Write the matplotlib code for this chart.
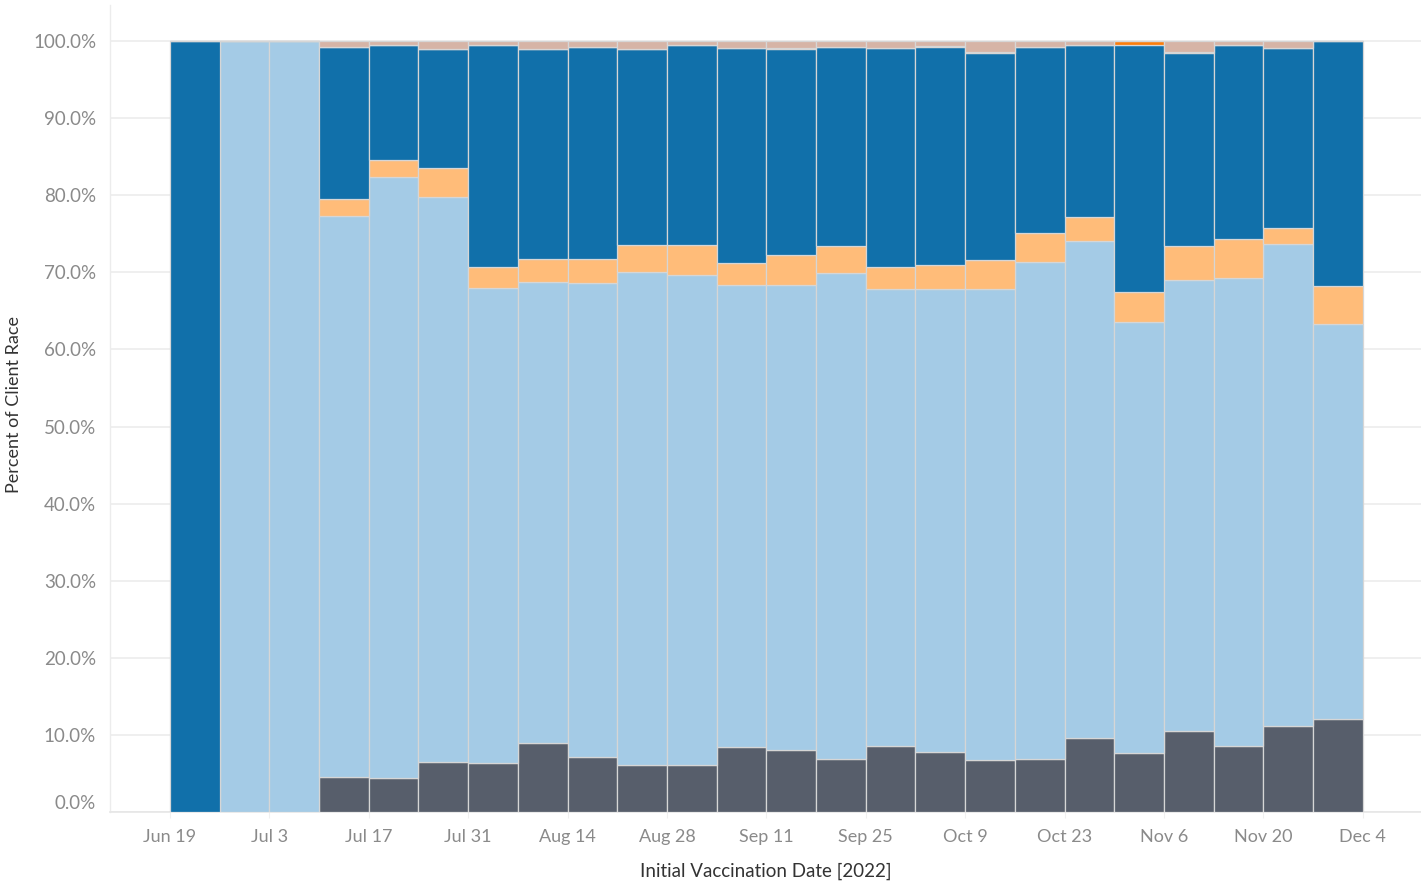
import matplotlib
matplotlib.use("Agg")
import matplotlib.pyplot as plt
import matplotlib.dates as mdates
import numpy as np
import datetime as dt

# Weekly bins (week starting dates, 2022)
week_starts = ["2022-06-19", "2022-06-26", "2022-07-03", "2022-07-10", "2022-07-17",
               "2022-07-24", "2022-07-31", "2022-08-07", "2022-08-14", "2022-08-21",
               "2022-08-28", "2022-09-04", "2022-09-11", "2022-09-18", "2022-09-25",
               "2022-10-02", "2022-10-09", "2022-10-16", "2022-10-23", "2022-10-30",
               "2022-11-06", "2022-11-13", "2022-11-20", "2022-11-27"]

# Percent of client race per week (stacked bottom -> top)
race_dark_gray = [0, 0, 0, 4.6, 4.4, 6.5, 6.3, 9.0, 7.1, 6.1, 6.1, 8.4, 8.0, 6.9, 8.6,
                  7.8, 6.7, 6.9, 9.6, 7.7, 10.5, 8.6, 11.1, 12.0]
race_light_blue = [0, 100, 100, 72.7, 77.9, 73.3, 61.7, 59.7, 61.5, 64.0, 63.6, 60.0, 60.4,
                   63.0, 59.2, 60.0, 61.1, 64.4, 64.5, 55.8, 58.5, 60.6, 62.6, 51.3]
race_light_orange = [0, 0, 0, 2.2, 2.3, 3.7, 2.7, 3.0, 3.1, 3.4, 3.8, 2.8, 3.8, 3.5, 2.9,
                     3.1, 3.8, 3.8, 3.1, 4.0, 4.4, 5.1, 2.0, 4.9]
race_dark_blue = [100, 0, 0, 19.7, 14.9, 15.4, 28.8, 27.2, 27.5, 25.4, 26.0, 27.9, 26.7,
                  25.8, 28.4, 28.3, 26.8, 24.1, 22.3, 32.0, 25.0, 25.2, 23.4, 31.8]
race_orange = [0, 0, 0, 0, 0, 0, 0, 0, 0, 0, 0, 0, 0.2, 0, 0, 0.2, 0.2, 0, 0, 0.5, 0.2,
               0, 0, 0]
race_tan = [0, 0, 0, 0.8, 0.5, 1.1, 0.5, 1.1, 0.8, 1.1, 0.5, 0.9, 0.9, 0.8, 0.9, 0.6, 1.4,
            0.8, 0.5, 0, 1.4, 0.5, 0.9, 0]

tick_dates = ["2022-06-19", "2022-07-03", "2022-07-17", "2022-07-31", "2022-08-14",
              "2022-08-28", "2022-09-11", "2022-09-25", "2022-10-09", "2022-10-23",
              "2022-11-06", "2022-11-20", "2022-12-04"]

layers = [
    (race_dark_gray, "#575e6b"),
    (race_light_blue, "#a4cbe6"),
    (race_light_orange, "#ffbc79"),
    (race_dark_blue, "#1170aa"),
    (race_orange, "#fc7d0b"),
    (race_tan, "#d6b4a6"),
]

plt.rcParams['font.family'] = ['Lato', 'DejaVu Sans']

fig = plt.figure(figsize=(14.21, 8.84), dpi=100)
ax = fig.add_axes([110 / 1421, 1 - 812 / 884, 1 - 110 / 1421, (812 - 5) / 884])

x = mdates.date2num([dt.datetime.strptime(s, "%Y-%m-%d") for s in week_starts])
data = np.array([l[0] for l in layers], dtype=float)
totals = data.sum(axis=0)
pct = data / totals * 100.0

bottom = np.zeros(len(x))
for (vals, color), row in zip(layers, pct):
    ax.bar(x, row, width=7, bottom=bottom, align='edge', color=color,
           edgecolor='#d6d6d6', linewidth=0.9, zorder=3)
    bottom += row

ticks = mdates.date2num([dt.datetime.strptime(s, "%Y-%m-%d") for s in tick_dates])
ax.set_xticks(ticks)
ax.set_xticklabels([f"{dt.datetime.strptime(s, '%Y-%m-%d'):%b} {int(s[-2:])}" for s in tick_dates])
ax.set_xlim(ticks[0] - 8.45, ticks[-1] + 8.2)

y_per_px = 100 / (812 - 41)
ax.set_ylim(0, (812 - 5) * y_per_px)
ax.set_yticks(np.arange(0, 101, 10))
ax.set_yticklabels([f"{v:.1f}%" for v in np.arange(0, 101, 10)])
ax.get_yticklabels()[0].set_va('bottom')

ax.grid(axis='y', color='#ececec', linewidth=1.2, zorder=0)
ax.grid(axis='x', visible=False)
for s in ['top', 'right']:
    ax.spines[s].set_visible(False)
ax.spines['left'].set_color('#ececec')
ax.spines['bottom'].set_color('#e6e6e6')
ax.spines['left'].set_linewidth(1.0)
ax.spines['bottom'].set_linewidth(1.2)

ax.tick_params(axis='y', length=0, pad=10, labelsize=13.5, labelcolor='#8a8a8a')
ax.tick_params(axis='x', length=4, color='#f0f0f0', pad=8, labelsize=13, labelcolor='#8a8a8a')

fig.text(14 / 1421, 1 - 405 / 884, "Percent of Client Race", rotation=90,
         ha='center', va='center', fontsize=13, color='#333333')
fig.text(766 / 1421, 1 - 871 / 884, "Initial Vaccination Date [2022]",
         ha='center', va='center', fontsize=13.5, color='#333333')

fig.savefig("out.png", dpi=100, facecolor='white')
